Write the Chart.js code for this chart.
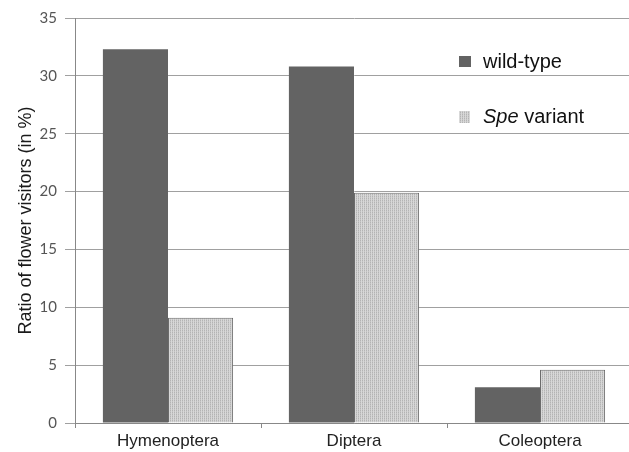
<!DOCTYPE html>
<html>
<head>
<meta charset="utf-8">
<script src="https://cdn.jsdelivr.net/npm/chart.js@4/dist/chart.umd.min.js"></script>
<style>
  html, body { margin: 0; padding: 0; background: #fff; overflow: hidden; }
  #chart { display: block; }
</style>
</head>
<body>
<canvas id="chart" width="640" height="452" style="width:640px;height:452px"></canvas>
<script>
const categories = ['Hymenoptera', 'Diptera', 'Coleoptera'];
const wildType = [32.3, 30.8, 3.1];
const speVariant = [9.1, 19.9, 4.6];
const yTicks = [0, 5, 10, 15, 20, 25, 30, 35];

// fine dotted fill used for the Spe variant bars
function dotPattern() {
    const c = document.createElement('canvas');
    c.width = 2; c.height = 2;
    const g = c.getContext('2d');
    g.fillStyle = '#d8d8d8'; g.fillRect(0, 0, 2, 2);
    g.fillStyle = '#b4b4b4'; g.fillRect(0, 0, 1, 1);
    g.fillStyle = '#c6c6c6'; g.fillRect(0, 1, 1, 1);
    return g.createPattern(c, 'repeat');
}

const canvas = document.getElementById('chart');
const pattern = dotPattern();

// legend with an italic gene name, drawn by hand
const legendPlugin = {
    id: 'handLegend',
    afterDraw(chart) {
        const ctx = chart.ctx;
        ctx.save();
        ctx.fillStyle = '#636363';
        ctx.fillRect(459, 56, 12, 11);
        ctx.fillStyle = pattern;
        ctx.fillRect(459, 111, 11, 12);
        ctx.fillStyle = '#111';
        ctx.textBaseline = 'alphabetic';
        ctx.font = '20px "Liberation Sans", Arial, sans-serif';
        ctx.fillText('wild-type', 483, 68);
        ctx.font = 'italic 20px "Liberation Sans", Arial, sans-serif';
        ctx.fillText('Spe', 483, 123);
        const w = ctx.measureText('Spe').width;
        ctx.font = '20px "Liberation Sans", Arial, sans-serif';
        ctx.fillText(' variant', 483 + w, 123);
        ctx.restore();
    }
};

new Chart(canvas, {
    type: 'bar',
    data: {
        labels: categories,
        datasets: [
            { label: 'wild-type', data: wildType, backgroundColor: '#636363', borderWidth: 0 },
            { label: 'Spe variant', data: speVariant, backgroundColor: pattern, borderColor: '#6c6c6c', borderWidth: 1 }
        ]
    },
    options: {
        responsive: false,
        animation: false,
        layout: { padding: { top: 18, right: 7, left: 0, bottom: 0 } },
        datasets: { bar: { barPercentage: 1, categoryPercentage: 0.7 } },
        plugins: { legend: { display: false }, tooltip: { enabled: false } },
        scales: {
            x: {
                grid: { display: true, drawOnChartArea: false, drawTicks: true, tickLength: 5, color: '#888' },
                border: { color: '#888' },
                ticks: { color: '#222', padding: 3, font: { family: '"Liberation Sans", Arial, sans-serif', size: 17 } },
                afterFit: (s) => { s.height = 29; }
            },
            y: {
                min: 0,
                max: 35,
                afterBuildTicks: (s) => { s.ticks = yTicks.map((v) => ({ value: v })); },
                grid: { color: '#a0a0a0', tickLength: 10 },
                border: { color: '#888' },
                ticks: { color: '#555', padding: 8, font: { family: 'Lato, "Open Sans", sans-serif', size: 15 } },
                title: {
                    display: true,
                    text: 'Ratio of flower visitors (in %)',
                    color: '#1a1a1a',
                    padding: { top: 15, bottom: 0 },
                    font: { family: '"Liberation Sans", Arial, sans-serif', size: 18, lineHeight: 1.2 }
                },
                afterFit: (s) => { s.width = 75; }
            }
        }
    },
    plugins: [legendPlugin]
});
</script>
</body>
</html>
